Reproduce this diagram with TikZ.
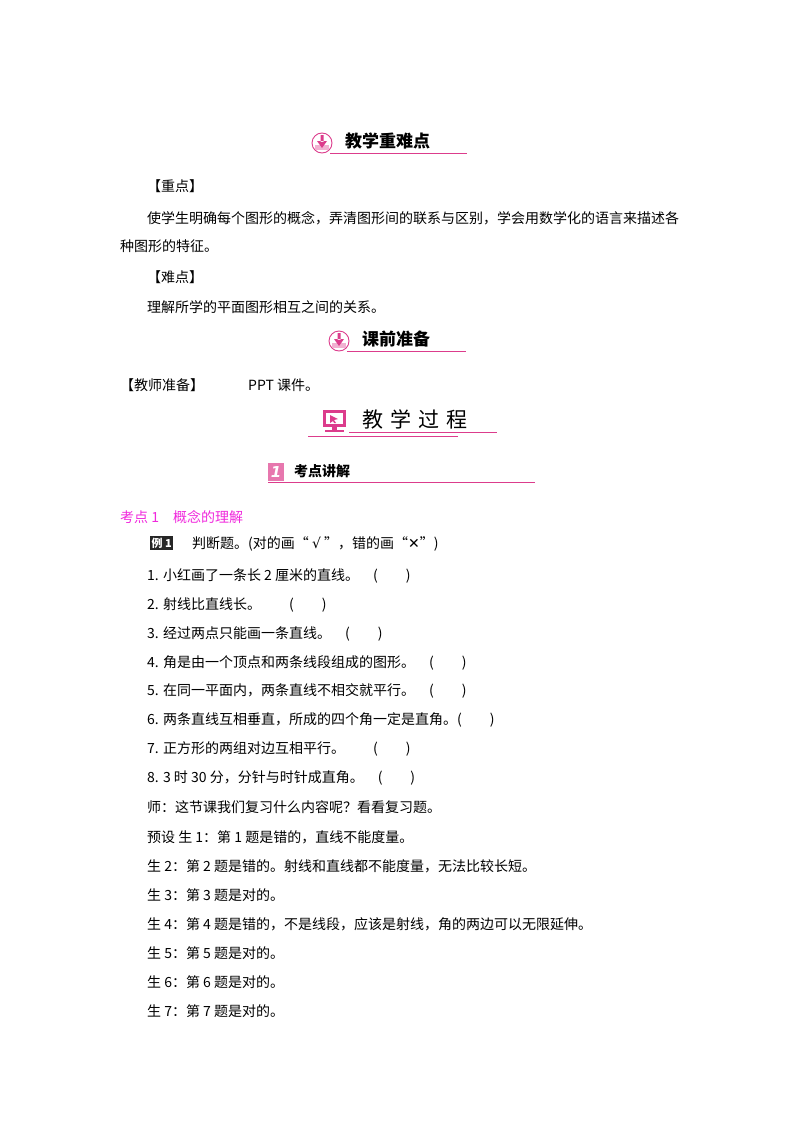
\documentclass[tikz,border=0pt]{standalone}
\usepackage{fontspec}
\setmainfont{Noto Sans CJK SC}
\newfontfamily\djv{DejaVu Sans}
\definecolor{pk}{RGB}{220,60,140}
\definecolor{mg}{RGB}{240,40,220}
\begin{document}
\begin{tikzpicture}[x=1pt,y=-1pt,font=\fontsize{14}{14}\selectfont,
 t/.style={anchor=west,inner sep=0pt},
 hd/.style={anchor=west,inner sep=0pt,font=\fontsize{17}{18}\selectfont\bfseries},
 hl/.style={pk,line width=0.8pt}]
\useasboundingbox (0,0) rectangle (800,1132);
% header 1
\draw[pk,line width=0.9pt,fill=white] (322,143) circle (10);
\fill[pk!40] (315,145) rectangle (329,150);
\fill[pk] (320.5,135) rectangle (323.5,142) (317,141) -- (327,141) -- (322,148) -- cycle;
\node[hd] (h1) at (345,141) {教学重难点};
\draw[hl] (330,153) -- (467,153);
\node[t] (a) at (147,186) {【重点】};
\node[t] (b) at (147,218) {使学生明确每个图形的概念，弄清图形间的联系与区别，学会用数学化的语言来描述各};
\node[t] (c) at (120,246) {种图形的特征。};
\node[t] (d) at (147,277) {【难点】};
\node[t] (e) at (147,307) {理解所学的平面图形相互之间的关系。};
% header 2
\draw[pk,line width=0.9pt,fill=white] (339,341) circle (10);
\fill[pk!40] (332,343) rectangle (346,348);
\fill[pk] (337.5,333) rectangle (340.5,340) (334,339) -- (344,339) -- (339,346) -- cycle;
\node[hd] (h2) at (362,339) {课前准备};
\draw[hl] (347,351) -- (466,351);
\node[t] (f) at (120,385) {【教师准备】};
\node[t] (f2) at (248,385) {PPT 课件。};
% header 3
\fill[pk] (323,410) rectangle (346,427);
\fill[white] (326,413) rectangle (343,424);
\fill[pk] (330,415) -- (338,419) -- (334,420) -- (336,423) -- (334,423) -- (333,421) -- (330,423) -- cycle;
\fill[pk] (332,427) rectangle (337,431);
\fill[pk] (325,430) rectangle (344,432);
\node[anchor=west,inner sep=0pt,font=\fontsize{21}{22}\selectfont] (h3) at (362,419) {教\,\,学\,\,过\,\,程};
\draw[hl] (349,432) -- (497,432);
\draw[hl,line width=0.6pt] (308,436) -- (458,436);
% section 1
\fill[pk!70] (268,463) rectangle (284,481);
\node[inner sep=0pt,white,font=\fontsize{15}{15}\selectfont\bfseries] at (276,472) {\djv\itshape 1};
\node[anchor=west,inner sep=0pt,font=\fontsize{14}{14}\selectfont\bfseries] (s1) at (294,471) {考点讲解};
\draw[pk,line width=0.5pt] (268,482) -- (535,482);
\node[t,mg] (k1) at (120,517) {考点 1\quad 概念的理解};
\node[anchor=west,fill=black!85,text=white,inner sep=1.5pt,font=\fontsize{11}{11}\selectfont\bfseries] (ex) at (150,543) {例 1};
\node[t] (q) at (192,544) {判断题。(对的画“ {\djv √} ”，错的画“{\djv ✕}”)};
\node[t] at (147,576) {1. 小红画了一条长 2 厘米的直线。\quad (\qquad )};
\node[t] at (147,605) {2. 射线比直线长。\qquad (\qquad )};
\node[t] at (147,634) {3. 经过两点只能画一条直线。\quad (\qquad )};
\node[t] at (147,663) {4. 角是由一个顶点和两条线段组成的图形。\quad (\qquad )};
\node[t] at (147,691) {5. 在同一平面内，两条直线不相交就平行。\quad (\qquad )};
\node[t] at (147,720) {6. 两条直线互相垂直，所成的四个角一定是直角。(\qquad )};
\node[t] at (147,749) {7. 正方形的两组对边互相平行。\qquad (\qquad )};
\node[t] at (147,778) {8. 3 时 30 分，分针与时针成直角。\quad (\qquad )};
\node[t] at (147,807) {师：这节课我们复习什么内容呢？看看复习题。};
\node[t] at (147,837) {预设\ 生 1：第 1 题是错的，直线不能度量。};
\node[t] at (147,866) {生 2：第 2 题是错的。射线和直线都不能度量，无法比较长短。};
\node[t] at (147,895) {生 3：第 3 题是对的。};
\node[t] at (147,924) {生 4：第 4 题是错的，不是线段，应该是射线，角的两边可以无限延伸。};
\node[t] at (147,953) {生 5：第 5 题是对的。};
\node[t] at (147,982) {生 6：第 6 题是对的。};
\node[t] at (147,1011) {生 7：第 7 题是对的。};
\end{tikzpicture}
\end{document}
